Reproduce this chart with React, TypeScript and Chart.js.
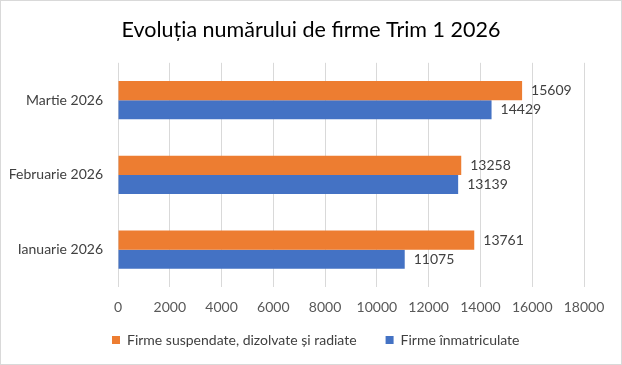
import React, { useEffect, useRef } from "react";
import { Chart, registerables } from "chart.js";

Chart.register(...registerables);

const TITLE = "Evoluția numărului de firme Trim 1 2026";
const categories = ["Martie 2026", "Februarie 2026", "Ianuarie 2026"];
const seriesNames = ["Firme suspendate, dizolvate și radiate", "Firme înmatriculate"];
const suspendate = [15609, 13258, 13761];
const inmatriculate = [14429, 13139, 11075];
const xTicks = [0, 2000, 4000, 6000, 8000, 10000, 12000, 14000, 16000, 18000];

const FONT = "Lato, 'Open Sans', sans-serif";

const valueLabels = {
  id: "valueLabels",
  afterDatasetsDraw(chart: any) {
    const ctx = chart.ctx;
    ctx.save();
    ctx.font = `14px ${FONT}`;
    ctx.fillStyle = "#404040";
    ctx.textAlign = "left";
    ctx.textBaseline = "middle";
    chart.data.datasets.forEach((ds: any, di: number) => {
      const meta = chart.getDatasetMeta(di);
      meta.data.forEach((bar: any, i: number) => {
        ctx.fillText(String(ds.data[i]), bar.x + 9, bar.y);
      });
    });
    ctx.restore();
  },
};

const boxTweaks = {
  id: "boxTweaks",
  beforeLayout(chart: any) {
    const lg = chart.legend;
    if (lg && !lg._patched) {
      const orig = lg.fit.bind(lg);
      lg.fit = function () {
        orig();
        this.height = 30;
      };
      lg._patched = true;
    }
  },
  afterLayout(chart: any) {
    const lg = chart.legend;
    if (lg) {
      lg.left = 82;
      lg.top = 303;
    }
    const t = chart.titleBlock;
    if (t) {
      t.left = 0;
      t.right = 620;
    }
  },
};

export default function App() {
  const ref = useRef<HTMLCanvasElement | null>(null);
  useEffect(() => {
    if (!ref.current) return;
    const chart = new Chart(ref.current, {
      type: "bar",
      data: {
        labels: categories,
        datasets: [
          {
            label: seriesNames[0],
            data: suspendate,
            backgroundColor: "#ED7D31",
            categoryPercentage: 0.51,
            barPercentage: 1,
          },
          {
            label: seriesNames[1],
            data: inmatriculate,
            backgroundColor: "#4472C4",
            categoryPercentage: 0.51,
            barPercentage: 1,
          },
        ],
      },
      options: {
        indexAxis: "y",
        animation: false,
        responsive: false,
        maintainAspectRatio: false,
        layout: { padding: { left: 0, right: 37, top: 0, bottom: 7 } },
        scales: {
          x: {
            min: 0,
            max: 18000,
            afterBuildTicks(scale: any) {
              scale.ticks = xTicks.map((v) => ({ value: v }));
            },
            afterFit(scale: any) {
              scale.height = 40;
            },
            grid: { color: "#d9d9d9", drawTicks: false, tickLength: 0 },
            border: { display: false },
            ticks: {
              padding: 12,
              color: "#595959",
              font: { family: FONT, size: 14 },
              maxRotation: 0,
              callback: (v: any) => String(v),
            },
          },
          y: {
            afterFit(scale: any) {
              scale.width = 117;
            },
            grid: { display: false, drawTicks: false, tickLength: 0 },
            border: { display: false },
            ticks: {
              padding: 15,
              color: "#404040",
              font: { family: FONT, size: 14 },
            },
          },
        },
        plugins: {
          title: {
            display: true,
            text: TITLE,
            color: "#000000",
            font: { family: FONT, size: 21.5, weight: "normal" },
            padding: { top: 16, bottom: 20 },
          },
          legend: {
            position: "bottom",
            align: "start",
            labels: {
              boxWidth: 8,
              boxHeight: 8,
              padding: 29,
              color: "#404040",
              font: { family: FONT, size: 14 },
            },
          },
          tooltip: { enabled: false },
        },
      },
      plugins: [valueLabels, boxTweaks],
    });
    return () => chart.destroy();
  }, []);

  return (
    <div
      style={{
        position: "absolute",
        left: 0,
        top: 0,
        width: 622,
        height: 365,
        boxSizing: "border-box",
        border: "1px solid #d9d9d9",
        background: "#fff",
      }}
    >
      <canvas ref={ref} width={620} height={363} style={{ display: "block" }} />
    </div>
  );
}
